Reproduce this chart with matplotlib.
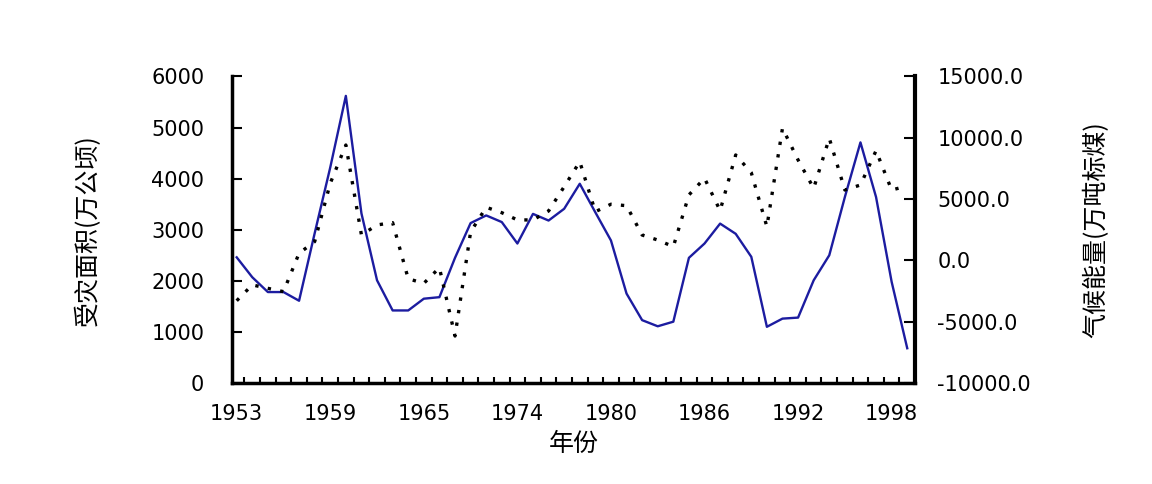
import matplotlib
matplotlib.use("Agg")
import matplotlib.pyplot as plt
import numpy as np

plt.rcParams["font.family"] = ["DejaVu Sans", "Noto Sans CJK SC"]

# years on the category axis (1966-1968 are missing in the source chart)
years = list(range(1953, 1966)) + list(range(1969, 2000))

# affected area, 10k hectares (left axis)
disaster_area = [2460, 2070, 1780, 1780, 1610, 2930, 4220, 5620, 3320, 2010,
                 1420, 1420, 1650, 1680, 2450, 3130, 3280, 3150, 2730, 3310,
                 3180, 3410, 3900, 3340, 2790, 1750, 1230, 1110, 1200, 2450,
                 2730, 3120, 2920, 2470, 1100, 1260, 1280, 2010, 2500, 3640,
                 4710, 3640, 1980, 680]

# climate energy, 10k t standard coal (right axis)
climate_energy = [-3290, -2000, -2280, -2550, 580, 1530, 6290, 9410, 2070, 2890,
                  3080, -1500, -1870, -600, -6170, 2320, 4330, 3890, 3300, 3300,
                  4030, 6010, 8050, 3970, 4580, 4460, 2070, 1660, 1120, 5340,
                  6700, 4060, 8600, 7150, 2750, 10780, 8190, 5880, 9960, 5740,
                  6150, 8950, 5740, 6070]

left_ticks = [0, 1000, 2000, 3000, 4000, 5000, 6000]
right_ticks = [-10000, -5000, 0, 5000, 10000, 15000]
label_years = [1953, 1959, 1965, 1974, 1980, 1986, 1992, 1998]

cjk = ["Noto Sans CJK SC", "DejaVu Sans"]

fig = plt.figure(figsize=(11.52, 4.84), dpi=100)
ax = fig.add_axes([0.2014, 0.2087, 0.5929, 0.6333])
ax2 = ax.twinx()

x = np.arange(len(years))
ax.plot(x, disaster_area, color="#1c1ca0", lw=1.7, zorder=3)
ax2.plot(x, climate_energy, color="black", lw=2.4, linestyle=(0, (1.0, 2.8)))

ax.set_xlim(-0.3, 43.4)
ax.set_ylim(0, 6000)
ax2.set_ylim(-10000, 15000)

ax.set_yticks(left_ticks)
ax.set_yticklabels([str(v) for v in left_ticks])
ax2.set_yticks(right_ticks)
ax2.set_yticklabels([f"{v:.1f}" for v in right_ticks])

ax.set_xticks([years.index(y) for y in label_years])
ax.set_xticklabels([str(y) for y in label_years])
ax.set_xticks(np.arange(len(years)) + 0.5, minor=True)

ax.tick_params(axis="x", which="major", length=0, pad=15, labelsize=15)
ax.tick_params(axis="x", which="minor", direction="in", length=4, width=1.5)
ax.tick_params(axis="y", direction="in", length=7, width=1.5, pad=20, labelsize=15)
ax2.tick_params(axis="y", direction="in", length=8, width=1.5, pad=16, labelsize=15)

for a in (ax, ax2):
    a.spines["top"].set_visible(False)
ax.spines["left"].set_linewidth(2.5)
ax.spines["bottom"].set_linewidth(2.5)
ax2.spines["left"].set_visible(False)
ax2.spines["bottom"].set_visible(False)
ax2.spines["right"].set_linewidth(3)

ax.set_ylabel("受灾面积(万公顷)", family=cjk, fontsize=18, labelpad=36)
ax2.set_ylabel("气候能量(万吨标煤)", family=cjk, fontsize=18, rotation=90, labelpad=38)
ax.set_xlabel("年份", family=cjk, fontsize=18, labelpad=5)

fig.savefig("out.png", dpi=100, facecolor="white")
